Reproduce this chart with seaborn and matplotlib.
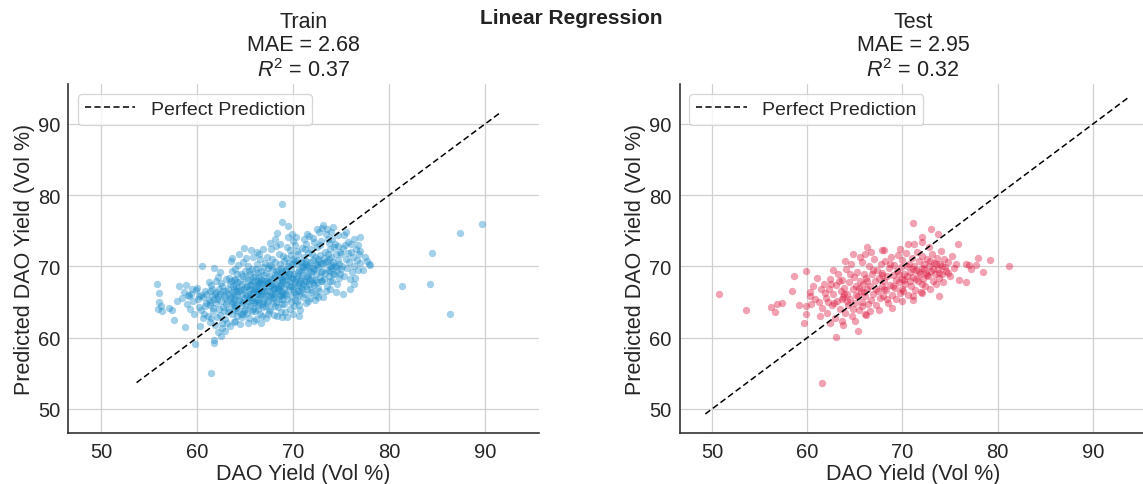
import numpy as np
import pandas as pd
import matplotlib
matplotlib.use("Agg")
import matplotlib.pyplot as plt
import seaborn as sns

# ---------------- data (actual, predicted) ----------------
train_pts = [
    # x 55.5-58.5
    (55.8,67.5),(56.0,66.3),(56.0,65.0),(55.9,64.0),(56.2,64.4),(56.3,63.8),(57.1,64.2),(57.4,63.9),
    (57.6,62.5),(58.1,67.2),(58.9,67.4),(58.7,61.5),(58.4,65.6),(58.6,66.4),(57.9,65.2),
    # x 58.5-61
    (59.0,64.7),(59.2,65.8),(59.4,66.2),(59.6,65.1),(59.8,59.1),(59.9,66.7),(60.3,61.6),(60.1,65.4),
    (60.2,64.3),(60.4,66.0),(60.5,70.1),(60.6,65.7),(60.7,63.4),(60.8,66.5),(60.9,64.9),(59.3,64.1),
    (59.7,63.3),(60.0,67.0),(60.6,62.8),(60.9,66.1),(59.5,66.9),(60.2,65.9),(60.8,64.5),(59.1,66.0),(60.4,63.9),
    # x 61-63
    (61.5,55.0),(61.8,59.7),(61.8,59.3),(62.5,60.3),(61.8,69.8),(61.2,65.3),(61.3,66.6),(61.4,64.6),
    (61.5,67.4),(61.6,65.9),(61.7,63.8),(61.9,66.2),(62.0,64.9),(62.0,67.9),(62.1,65.5),(62.2,68.5),
    (62.3,66.8),(62.4,63.2),(62.5,65.1),(62.6,67.2),(62.7,64.3),(62.8,66.0),(62.9,62.6),(63.0,68.3),
    (61.1,63.1),(61.3,62.2),(61.6,66.9),(61.9,61.8),(62.1,62.9),(62.3,64.0),(62.4,69.2),(62.6,61.4),
    (62.7,66.5),(62.9,65.6),(61.2,67.8),(61.4,65.0),(61.7,64.2),(62.0,66.4),(62.2,65.8),(62.5,67.7),
    (62.8,63.7),(63.0,64.8),(61.5,62.7),(62.2,60.8),(62.6,62.1),(62.9,60.9),(62.4,66.1),(61.8,65.4),
    # x 63-65
    (63.1,65.2),(63.2,66.9),(63.3,64.1),(63.4,67.5),(63.5,65.8),(63.5,70.8),(63.6,71.2),(63.6,63.3),
    (63.7,66.4),(63.8,68.1),(63.9,64.7),(64.0,65.9),(64.0,62.4),(64.1,67.3),(64.2,66.0),(64.2,69.0),
    (64.3,63.8),(64.4,71.7),(64.4,65.3),(64.5,67.9),(64.6,64.6),(64.6,66.7),(64.7,62.9),(64.8,63.4),
    (64.8,68.6),(64.9,72.6),(64.9,65.6),(65.0,67.1),(63.1,62.0),(63.3,68.4),(63.4,61.6),(63.6,64.9),
    (63.8,62.2),(63.9,66.8),(64.0,69.6),(64.1,64.2),(64.3,67.0),(64.5,61.9),(64.7,66.2),(64.9,63.7),
    (63.2,63.6),(63.5,67.9),(63.7,65.0),(64.0,68.2),(64.2,63.0),(64.4,66.5),(64.6,68.9),(64.8,65.0),
    (65.0,64.1),(63.3,66.2),(63.9,65.4),(64.1,66.6),(64.5,65.1),(64.7,67.6),(63.6,69.4),(64.3,70.2),
    (64.8,70.6),(63.0,66.6),(63.8,63.9),(64.6,63.3),(64.2,67.8),(63.4,65.6),(64.9,66.9),(63.7,67.2),(64.0,64.5),
    # x 65-67
    (65.1,66.0),(65.1,68.4),(65.2,63.5),(65.2,67.2),(65.3,65.1),(65.3,70.0),(65.4,66.7),(65.4,62.7),
    (65.5,68.9),(65.5,64.4),(65.6,67.5),(65.6,65.7),(65.7,69.6),(65.7,63.8),(65.8,66.3),(65.8,71.4),
    (65.9,67.9),(65.9,64.9),(66.0,66.8),(66.0,68.6),(66.1,65.3),(66.1,62.6),(66.2,67.3),(66.2,70.4),
    (66.3,64.1),(66.3,68.0),(66.4,66.1),(66.4,69.2),(66.5,65.0),(66.5,67.7),(66.6,63.3),(66.6,71.0),
    (66.7,66.5),(66.7,68.3),(66.8,63.0),(66.8,64.8),(66.9,67.0),(66.9,69.9),(67.0,65.6),(67.0,68.8),
    (65.2,64.6),(65.4,69.3),(65.5,66.2),(65.7,67.9),(65.8,64.0),(66.0,63.7),(66.1,69.7),(66.3,66.5),
    (66.4,64.6),(66.6,67.9),(66.8,66.1),(66.9,65.2),(65.1,71.2),(65.6,72.3),(66.2,72.0),(66.5,71.7),
    (66.9,72.5),(65.3,62.0),(65.9,62.4),(66.7,62.1),(65.4,65.6),(65.8,68.5),(66.1,67.0),(66.4,65.4),
    (66.7,69.4),(67.0,66.6),(65.6,66.9),(66.0,65.0),(66.3,67.6),(66.8,67.5),(65.2,65.8),(65.5,67.4),
    (65.9,66.6),(66.2,66.2),(66.6,66.0),(65.3,68.1),(65.7,65.3),(66.5,68.5),(66.9,64.3),(65.0,69.3),
    # x 67-69
    (67.1,67.3),(67.1,64.5),(67.2,69.1),(67.2,66.0),(67.3,68.0),(67.3,71.3),(67.4,65.2),(67.4,67.7),
    (67.5,70.2),(67.5,63.8),(67.6,66.6),(67.6,68.7),(67.7,65.7),(67.7,72.4),(67.8,67.2),(67.8,69.6),
    (67.9,64.9),(67.9,66.9),(68.0,68.4),(68.0,63.2),(68.1,66.3),(68.1,70.6),(68.2,67.6),(68.2,65.0),
    (68.3,74.7),(68.3,69.0),(68.4,66.8),(68.4,64.3),(68.5,68.1),(68.5,71.8),(68.6,65.9),(68.6,67.4),
    (68.7,69.8),(68.7,63.6),(68.8,66.4),(68.8,68.9),(68.9,78.8),(68.9,76.2),(68.9,65.4),(69.0,67.9),
    (67.2,62.8),(67.4,69.8),(67.6,64.0),(67.8,71.0),(68.0,65.9),(68.2,72.9),(68.4,67.1),(68.6,70.3),
    (68.8,64.7),(69.0,71.5),(67.3,66.5),(67.5,67.8),(67.7,68.3),(67.9,65.6),(68.1,68.8),(68.3,66.6),
    (68.5,65.4),(68.7,67.3),(68.9,68.2),(67.1,70.5),(67.6,73.3),(68.1,73.8),(68.6,73.2),(67.4,63.3),
    (68.3,63.0),(68.8,62.9),(67.0,68.0),(67.5,65.9),(67.9,67.5),(68.4,69.5),(68.7,66.0),(67.2,67.9),
    (67.8,66.2),(68.2,69.4),(68.6,68.5),(69.0,66.2),(67.3,64.9),(67.7,70.0),(68.0,67.0),(68.5,66.9),
    (68.9,69.4),(67.6,67.2),(68.1,64.4),(68.8,67.8),
    # x 69-71
    (69.1,67.0),(69.1,64.8),(69.2,69.3),(69.2,66.3),(69.3,71.2),(69.3,68.1),(69.4,65.5),(69.4,67.6),
    (69.5,75.7),(69.5,70.0),(69.6,66.7),(69.6,68.9),(69.7,64.1),(69.7,72.3),(69.8,67.3),(69.8,69.7),
    (69.9,65.8),(69.9,68.4),(70.0,66.9),(70.0,71.0),(70.1,64.5),(70.1,69.0),(70.2,67.8),(70.2,73.0),
    (70.3,66.2),(70.3,70.3),(70.4,68.6),(70.4,65.1),(70.5,67.4),(70.5,71.8),(70.6,69.5),(70.6,66.0),
    (70.7,68.0),(70.7,63.9),(70.8,70.6),(70.8,67.1),(70.9,72.6),(70.9,68.8),(71.0,65.7),(71.0,69.9),
    (69.2,63.6),(69.4,72.8),(69.6,70.5),(69.8,65.0),(70.0,73.6),(70.2,65.3),(70.4,72.2),(70.6,64.6),
    (70.8,69.3),(71.0,67.6),(69.3,66.0),(69.5,68.6),(69.7,67.9),(69.9,70.4),(70.1,67.3),(70.3,68.3),
    (70.5,69.2),(70.7,66.6),(70.9,70.1),(69.1,70.8),(69.5,74.1),(69.9,74.6),(70.3,74.2),(69.4,62.9),
    (70.0,63.3),(70.6,63.0),(69.2,68.7),(69.6,67.2),(70.0,68.2),(70.4,70.9),(70.8,68.4),(69.8,71.6),
    (70.2,70.7),(70.6,67.7),(69.3,69.6),(69.7,69.0),(70.1,66.4),(70.5,66.5),(70.9,66.8),
    # x 71-73
    (71.1,68.0),(71.1,71.4),(71.2,66.1),(71.2,69.6),(71.3,67.3),(71.3,73.1),(71.4,70.3),(71.4,64.9),
    (71.5,68.7),(71.5,66.9),(71.6,71.9),(71.6,69.0),(71.7,67.6),(71.7,74.3),(71.8,70.6),(71.8,65.6),
    (71.9,69.2),(71.9,72.5),(72.0,68.3),(72.0,66.4),(72.1,70.9),(72.1,67.7),(72.2,73.5),(72.2,69.6),
    (72.3,65.3),(72.3,71.3),(72.4,66.0),(72.4,68.9),(72.5,70.2),(72.5,72.8),(72.6,67.0),(72.6,69.9),
    (72.7,74.9),(72.7,66.6),(72.8,71.6),(72.8,68.5),(72.9,70.5),(72.9,73.6),(73.0,67.9),(73.0,75.4),
    (71.2,72.5),(71.4,67.9),(71.6,65.2),(71.8,68.1),(72.0,71.7),(72.2,67.4),(72.4,70.4),(72.6,65.7),
    (72.8,73.0),(73.0,69.4),(71.3,70.8),(71.5,69.9),(71.7,70.1),(71.9,66.7),(72.1,69.3),(72.3,68.1),
    (72.5,67.8),(72.7,70.8),(72.9,68.0),(71.1,73.9),(71.5,74.6),(72.1,74.0),(72.5,75.2),(73.1,65.7),
    (71.0,70.5),(71.6,68.4),(72.0,69.8),(72.6,71.1),(72.9,69.2),
    # x 73-75
    (73.1,70.3),(73.1,75.8),(73.2,68.2),(73.3,72.0),(73.3,69.1),(73.4,74.6),(73.5,70.8),(73.5,67.3),
    (73.6,71.7),(73.6,69.5),(73.7,73.3),(73.7,68.6),(73.8,70.1),(73.9,72.4),(73.9,66.8),(74.0,69.8),
    (74.0,71.3),(74.1,67.9),(74.1,73.8),(74.2,70.6),(74.3,68.9),(74.3,72.7),(74.4,70.0),(74.5,66.4),
    (74.5,71.8),(74.6,69.3),(74.7,74.4),(74.7,70.9),(74.8,68.4),(74.9,72.1),(75.0,69.6),(73.2,71.2),
    (73.4,66.6),(73.6,73.9),(73.8,68.0),(74.0,74.9),(74.2,69.0),(74.4,73.2),(74.6,67.6),(74.8,70.4),
    (75.0,71.7),(73.3,70.6),(73.7,71.0),(74.1,70.2),(74.5,69.9),(74.9,68.9),(73.5,75.2),(74.2,75.6),
    (73.9,69.4),(74.7,72.9),
    # x 75-78
    (75.1,70.1),(75.2,72.6),(75.3,74.4),(75.3,68.7),(75.5,74.9),(75.5,71.1),(75.6,69.8),(75.7,73.4),
    (75.8,70.6),(75.9,66.9),(76.0,72.0),(76.1,69.2),(76.2,71.3),(76.3,73.9),(76.4,70.0),(76.5,68.4),
    (76.6,72.5),(76.7,70.9),(76.8,69.5),(76.9,71.8),(77.0,74.2),(77.0,72.2),(77.0,70.5),(77.3,69.5),
    (77.5,71.4),(77.7,70.8),(78.0,70.2),(75.4,73.0),(75.9,68.2),(76.3,67.6),(75.2,66.1),(75.7,71.9),
    (76.0,73.1),(76.8,73.0),(77.9,70.3),
    # far right
    (81.4,67.3),(84.3,67.6),(84.5,71.9),(87.4,74.7),(89.7,75.9),(86.3,63.3),
]

test_pts = [
    # edges / outliers
    (50.7,66.1),(53.6,63.9),(56.2,64.3),(56.8,64.8),(57.4,64.9),(56.6,63.6),(58.4,66.6),(58.6,68.7),
    (59.9,69.4),(59.1,64.6),(59.9,64.4),(59.9,63.4),(59.7,62.1),(60.3,66.4),(60.4,64.7),(60.3,65.9),
    (63.0,60.1),(65.3,61.0),(66.2,63.2),(61.6,53.6),(71.1,76.1),(72.1,74.1),(72.1,73.4),(73.0,75.3),
    (73.7,74.6),(75.8,73.2),(76.7,70.3),(77.0,70.2),(77.7,70.2),(77.9,71.2),(79.2,70.9),(77.2,69.6),
    (78.5,69.2),(76.7,67.8),(81.2,70.0),(73.8,65.8),(72.1,66.3),(71.1,65.8),(71.1,65.3),(70.0,65.1),
    (68.9,64.2),(66.1,63.3),(74.8,69.1),(74.5,69.9),(66.3,72.8),(64.8,71.7),(66.1,71.8),(66.7,72.1),
    (67.8,72.3),(68.1,72.3),(69.7,72.5),(70.6,73.1),(71.2,73.1),(72.8,72.7),
    # core
    (61.2,65.0),(61.4,66.8),(61.6,64.2),(61.8,67.5),(62.0,65.6),(62.1,63.5),(62.3,66.9),(62.4,68.2),
    (62.6,64.6),(62.7,66.1),(62.9,62.7),(63.0,67.4),(63.1,65.2),(63.2,69.0),(63.4,64.0),(63.5,66.5),
    (63.6,62.4),(63.7,68.1),(63.8,65.7),(63.9,67.0),(64.0,63.5),(64.1,69.6),(64.2,66.2),(64.3,64.6),
    (64.4,67.8),(64.5,65.4),(64.6,70.3),(64.7,63.0),(64.8,66.8),(64.9,68.5),(65.0,64.9),(65.1,67.2),
    (65.2,69.2),(65.3,65.9),(65.4,63.9),(65.5,68.0),(65.6,66.5),(65.7,70.6),(65.8,64.4),(65.9,67.5),
    (66.0,69.0),(66.1,65.8),(66.2,68.4),(66.3,66.9),(66.4,64.8),(66.5,70.1),(66.6,67.3),(66.7,65.3),
    (66.8,68.9),(66.9,66.2),(67.0,71.0),(67.1,67.9),(67.2,64.6),(67.3,69.5),(67.4,66.6),(67.5,68.4),
    (67.6,65.6),(67.7,70.4),(67.8,67.2),(67.9,69.1),(68.0,65.9),(68.1,68.0),(68.2,70.8),(68.3,66.7),
    (68.4,68.6),(68.5,64.9),(68.6,69.8),(68.7,67.4),(68.8,71.4),(68.9,66.0),(69.0,68.8),(69.1,70.2),
    (69.2,67.0),(69.3,65.5),(69.4,69.4),(69.5,71.6),(69.6,67.8),(69.7,66.3),(69.8,69.9),(69.9,68.2),
    (70.0,70.9),(70.1,66.6),(70.2,69.0),(70.3,67.5),(70.4,71.9),(70.5,68.7),(70.6,66.0),(70.7,70.3),
    (70.8,69.2),(70.9,67.2),(71.0,71.2),(71.1,68.5),(71.2,70.0),(71.3,66.7),(71.4,69.5),(71.5,72.1),
    (71.6,67.9),(71.7,70.7),(71.8,68.9),(71.9,66.4),(72.0,69.8),(72.1,71.5),(72.2,68.2),(72.3,70.4),
    (72.4,67.3),(72.5,69.1),(72.6,71.0),(72.7,68.6),(72.8,70.0),(72.9,66.9),(73.0,69.4),(73.1,71.8),
    (73.2,68.0),(73.3,70.5),(73.4,69.0),(73.5,67.5),(73.6,71.2),(73.7,69.7),(73.8,68.4),(73.9,70.3),
    (74.0,72.2),(74.1,68.9),(74.2,70.0),(74.3,67.8),(74.4,71.0),(74.6,69.4),(74.8,70.6),(75.0,68.6),
    (75.2,71.5),(75.4,69.8),(75.6,70.4),(75.9,68.1),
    # extra density
    (61.9,66.3),(62.2,65.0),(62.5,67.6),(62.8,64.9),(63.3,67.9),(63.6,65.5),(63.9,66.1),(64.2,65.1),
    (64.5,68.9),(64.8,64.1),(65.1,66.0),(65.4,67.0),(65.7,65.0),(66.0,66.4),(66.3,67.9),(66.6,63.8),
    (66.9,69.5),(67.2,66.9),(67.5,63.9),(67.8,68.8),(68.1,66.9),(68.4,65.5),(68.7,70.3),(69.0,67.3),
    (69.3,68.1),(69.6,69.0),(69.9,66.9),(70.2,68.1),(70.5,70.0),(70.8,68.0),(71.1,69.6),(71.4,68.2),
    (71.7,69.2),(72.0,67.6),(72.3,69.6),(72.6,68.8),(72.9,70.8),(73.2,69.7),(73.5,70.4),(73.8,69.1),
    (62.4,62.0),(63.8,61.8),(65.0,62.4),(64.0,70.8),(65.5,71.3),(62.7,69.5),(61.0,68.4),(61.3,63.0),
    (60.8,65.5),(60.6,67.2),
]

panel_titles = ["Train", "Test"]
mae_values = [2.68, 2.95]
r2_values = [0.37, 0.32]
train_diag = [53.7, 91.6]
test_diag = [49.3, 93.7]
axis_lims = [46.6, 95.6]
tick_values = [50, 60, 70, 80, 90]

# ---------------- style ----------------
sns.set_theme(style="whitegrid")
plt.rcParams["font.family"] = ["Liberation Sans", "DejaVu Sans"]
plt.rcParams["mathtext.fontset"] = "custom"
plt.rcParams["mathtext.it"] = "Liberation Sans:italic"
plt.rcParams["mathtext.rm"] = "Liberation Sans"
plt.rcParams["grid.color"] = "#d0d0d0"
plt.rcParams["grid.linewidth"] = 0.9

fig = plt.figure(figsize=(11.43, 4.85), dpi=100)
W, H = 1143.0, 485.0
ax1 = fig.add_axes([68.4 / W, 1 - 434.2 / H, 470.4 / W, 349.1 / H])
ax2 = fig.add_axes([679.6 / W, 1 - 434.2 / H, 466.7 / W, 349.1 / H])

panels = [
    (ax1, train_pts, "#1a8bc9", train_diag),
    (ax2, test_pts, "crimson", test_diag),
]

for i, (ax, pts, col, diag) in enumerate(panels):
    df = pd.DataFrame(pts, columns=["actual", "predicted"])
    sns.scatterplot(data=df, x="actual", y="predicted", ax=ax, color=col,
                    alpha=0.4, s=28, linewidth=0)
    ax.plot(diag, diag, linestyle="--", color="black", linewidth=1.1,
            label="Perfect Prediction", dashes=(4, 2.2))
    ax.set_xlim(axis_lims)
    ax.set_ylim(axis_lims)
    ax.set_xticks(tick_values)
    ax.set_yticks(tick_values)
    ax.tick_params(labelsize=14.5, length=0, pad=6)
    ax.set_xlabel("DAO Yield (Vol %)", fontsize=15.5, labelpad=2)
    ax.set_ylabel("Predicted DAO Yield (Vol %)", fontsize=15.5, labelpad=2)
    ax.set_title(f"{panel_titles[i]}\nMAE = {mae_values[i]:.2f}\n$R^2$ = {r2_values[i]:.2f}",
                 fontsize=15.5, pad=6, linespacing=1.15, color="#222222")
    for side in ["top", "right"]:
        ax.spines[side].set_visible(False)
    for side in ["left", "bottom"]:
        ax.spines[side].set_color("#333333")
        ax.spines[side].set_linewidth(1.2)
    leg = ax.legend(loc="upper left", fontsize=14, frameon=True, handlelength=2.6,
                    borderpad=0.35, fancybox=True)
    leg.get_frame().set_edgecolor("#cccccc")
    leg.get_frame().set_linewidth(0.9)

fig.text(0.5, 1 - 9 / H, "Linear Regression", ha="center", va="top",
         fontsize=15, fontweight="bold", color="#222222")

fig.savefig("out.png", dpi=100)
